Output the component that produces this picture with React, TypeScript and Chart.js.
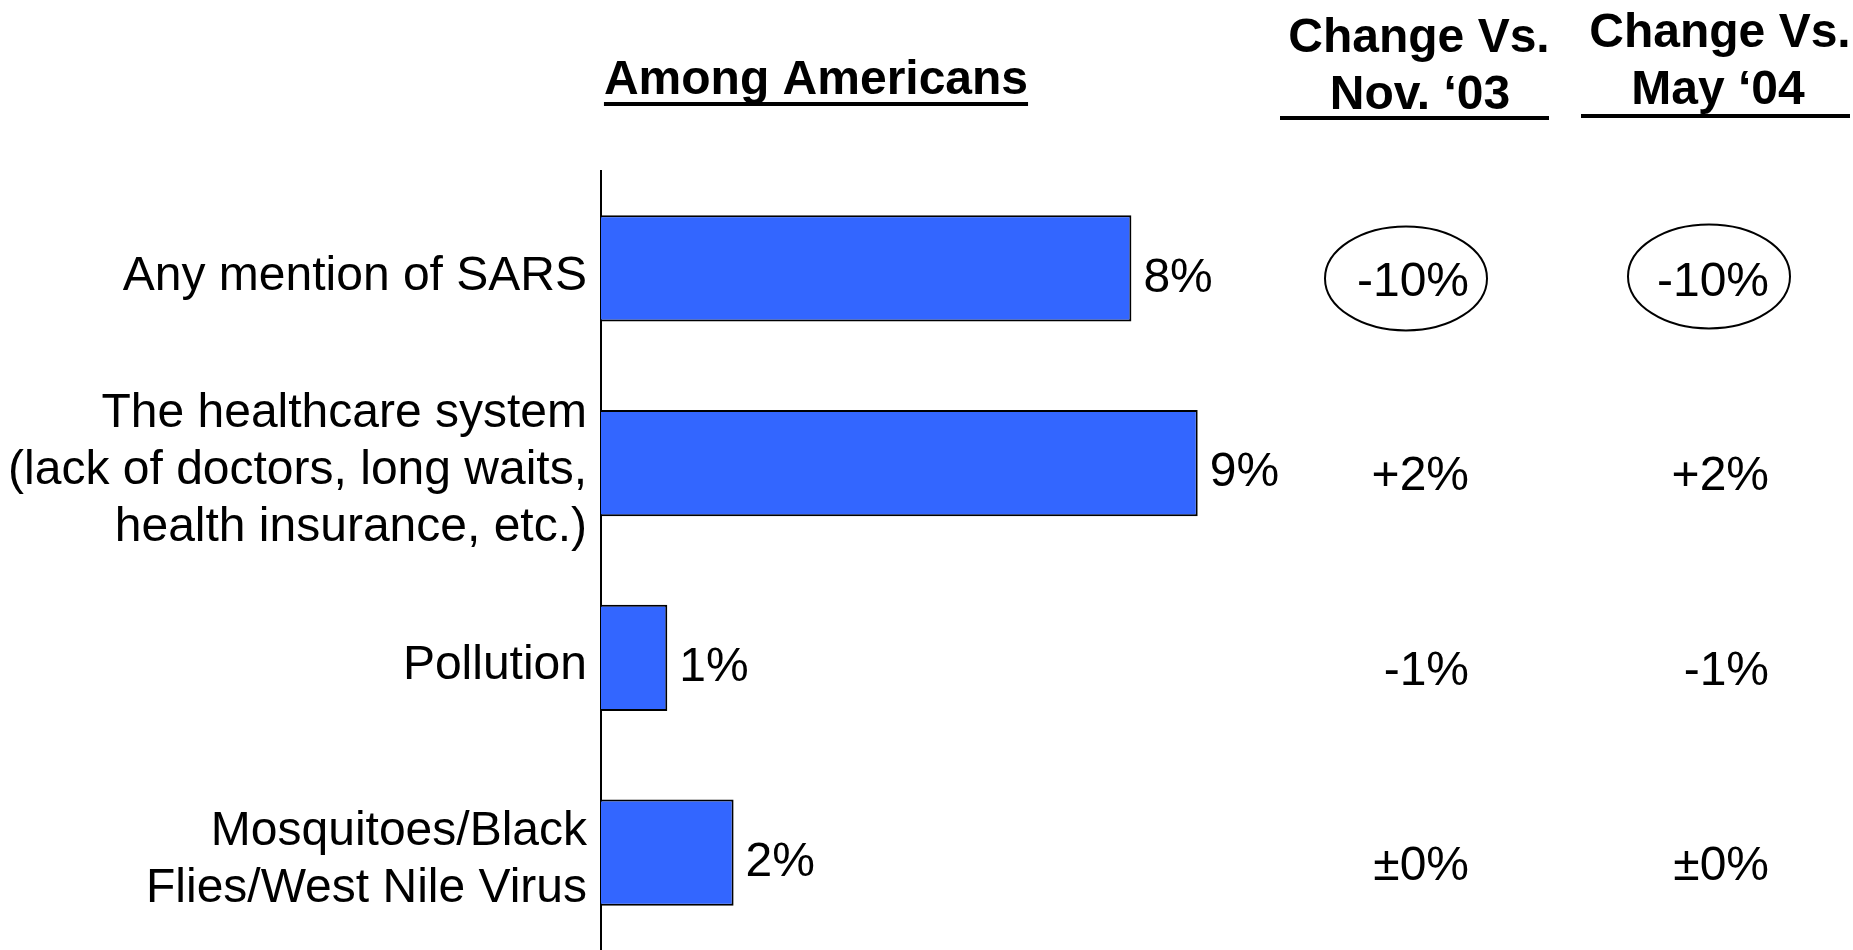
import React, { useEffect, useRef } from "react";
import { Chart, registerables } from "chart.js";

Chart.register(...registerables);

const categories: string[][] = [
  ["Any mention of SARS"],
  ["The healthcare system", "(lack of doctors, long waits,", "health insurance, etc.)"],
  ["Pollution"],
  ["Mosquitoes/Black", "Flies/West Nile Virus"],
];
const values: number[] = [8, 9, 1, 2];
const valueLabels: string[] = ["8%", "9%", "1%", "2%"];
const changeVsNov03: string[] = ["-10%", "+2%", "-1%", "±0%"];
const changeVsMay04: string[] = ["-10%", "+2%", "-1%", "±0%"];
const circled: boolean[] = [true, false, false, false];
const chartTitle = "Among Americans";
const headerNov: string[] = ["Change Vs.", "Nov. ‘03"];
const headerMay: string[] = ["Change Vs.", "May ‘04"];

const FONT = '"Liberation Sans", Arial, Helvetica, sans-serif';
const W = 1853;
const H = 950;

function drawUnderlinedTitle(ctx: CanvasRenderingContext2D, text: string, cx: number, baseline: number, lineY: number, x1?: number, x2?: number) {
  ctx.save();
  ctx.font = `bold 48px ${FONT}`;
  ctx.fillStyle = "#000";
  ctx.textAlign = "center";
  ctx.textBaseline = "alphabetic";
  ctx.fillText(text, cx, baseline);
  const w = ctx.measureText(text).width;
  const a = x1 ?? cx - w / 2;
  const b = x2 ?? cx + w / 2;
  ctx.fillRect(a, lineY - 2, b - a, 4);
  ctx.restore();
}

const overlayPlugin = {
  id: "overlay",
  afterDraw(chart: any) {
    const ctx: CanvasRenderingContext2D = chart.ctx;
    const yScale = chart.scales.y;
    const meta = chart.getDatasetMeta(0);

    // value labels
    ctx.save();
    ctx.font = `48px ${FONT}`;
    ctx.fillStyle = "#000";
    ctx.textAlign = "left";
    ctx.textBaseline = "middle";
    meta.data.forEach((el: any, i: number) => {
      ctx.fillText(valueLabels[i], el.x + 12, el.y + 10);
    });

    // change columns
    ctx.textAlign = "right";
    const colRight = [1469, 1769];
    const colCx = [1406, 1709];
    [changeVsNov03, changeVsMay04].forEach((col, c) => {
      col.forEach((t, i) => {
        const y = yScale.getPixelForValue(i);
        ctx.fillText(t, colRight[c], y + 14);
        if (circled[i]) {
          ctx.beginPath();
          ctx.lineWidth = 2;
          ctx.strokeStyle = "#000";
          ctx.ellipse(colCx[c], y + 10 - c * 2, 81, 52, 0, 0, Math.PI * 2);
          ctx.stroke();
        }
      });
    });
    ctx.restore();

    // titles
    ctx.save();
    ctx.font = `bold 48px ${FONT}`;
    ctx.fillStyle = "#000";
    ctx.textAlign = "center";
    ctx.fillText(headerNov[0], 1419, 52);
    ctx.fillText(headerMay[0], 1720, 47);
    ctx.restore();
    drawUnderlinedTitle(ctx, chartTitle, 816, 94, 104);
    drawUnderlinedTitle(ctx, headerNov[1], 1420, 109, 118, 1280, 1549);
    drawUnderlinedTitle(ctx, headerMay[1], 1718, 104, 116, 1581, 1850);
  },
};

export default function App() {
  const ref = useRef<HTMLCanvasElement | null>(null);
  useEffect(() => {
    document.body.style.margin = "0";
    const canvas = ref.current!;
    const chart = new Chart(canvas, {
      type: "bar",
      data: {
        labels: categories,
        datasets: [
          {
            data: values,
            backgroundColor: "#3366FF",
            borderColor: "#000000",
            borderWidth: 2,
            barPercentage: 0.545,
            categoryPercentage: 1,
          },
        ],
      },
      options: {
        indexAxis: "y",
        responsive: false,
        animation: false,
        layout: { padding: { top: 171, right: 589, bottom: 0, left: 0 } },
        plugins: {
          legend: { display: false },
          tooltip: { enabled: false },
          title: { display: false },
        },
        scales: {
          x: { display: false, min: 0, max: 10 },
          y: {
            type: "category",
            grid: { display: false, drawTicks: false },
            border: { display: true, color: "#000", width: 2 },
            ticks: {
              color: "#000",
              padding: 14,
              labelOffset: 8,
              font: { family: FONT, size: 48, lineHeight: 1.19 },
            },
            afterFit: (scale: any) => {
              scale.width = 601;
              scale.paddingTop = 0;
              scale.paddingBottom = 0;
            },
          },
        },
      },
      plugins: [overlayPlugin],
    } as any);
    return () => chart.destroy();
  }, []);
  return (
    <div style={{ position: "fixed", left: 0, top: 0, width: W, height: H, background: "#fff" }}>
      <canvas ref={ref} width={W} height={H} style={{ display: "block" }} />
    </div>
  );
}
